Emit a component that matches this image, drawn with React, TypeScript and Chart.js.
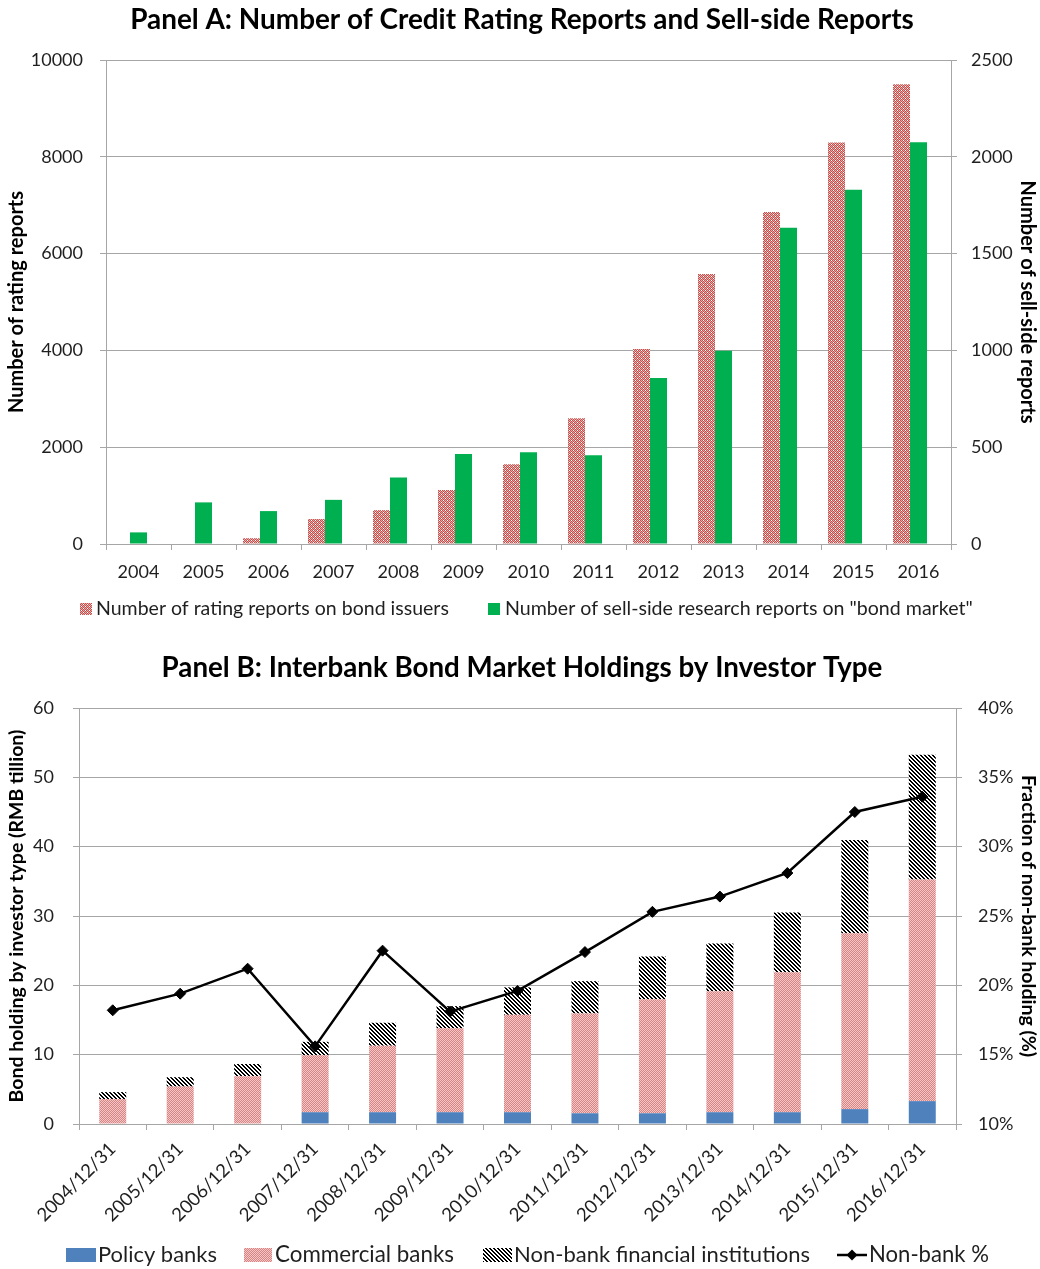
import React, { useEffect, useRef } from 'react';
import { Chart, registerables } from 'chart.js';

Chart.register(...registerables);

const FONT = 'Lato';
const TEXT = '#1f1f1f';
const GRID = '#a6a6a6';

// ---------- Panel A data ----------
const yearsA = ['2004', '2005', '2006', '2007', '2008', '2009', '2010', '2011', '2012', '2013', '2014', '2015', '2016'];
const ratingReports = [0, 0, 120, 515, 700, 1115, 1650, 2600, 4030, 5580, 6860, 8295, 9500];
const sellSideReports = [60, 215, 170, 228, 343, 465, 474, 458, 857, 998, 1634, 1830, 2075];
// Excel chart keeps an empty third slot in each cluster
const emptySlot = [null, null, null, null, null, null, null, null, null, null, null, null, null];
const titleA = 'Panel A: Number of Credit Rating Reports and Sell-side Reports';
const labelRating = 'Number of rating reports on bond issuers';
const labelSellSide = 'Number of sell-side research reports on "bond market"';

// ---------- Panel B data ----------
const datesB = ['2004/12/31', '2005/12/31', '2006/12/31', '2007/12/31', '2008/12/31', '2009/12/31', '2010/12/31', '2011/12/31', '2012/12/31', '2013/12/31', '2014/12/31', '2015/12/31', '2016/12/31'];
const policyBanks = [0, 0, 0, 1.7, 1.7, 1.7, 1.7, 1.55, 1.55, 1.7, 1.7, 2.15, 3.3];
const commercialBanks = [3.6, 5.4, 6.9, 8.2, 9.6, 12.1, 14.05, 14.4, 16.45, 17.45, 20.2, 25.35, 31.95];
const nonBankInstitutions = [1.0, 1.35, 1.75, 1.95, 3.3, 3.2, 3.95, 4.65, 6.15, 6.9, 8.6, 13.45, 18.0];
const nonBankPct = [18.2, 19.4, 21.2, 15.6, 22.5, 18.1, 19.6, 22.4, 25.3, 26.4, 28.1, 32.5, 33.6];
const titleB = 'Panel B: Interbank Bond Market Holdings by Investor Type';

function tilePattern(target: CanvasRenderingContext2D, rows: string[], colors: Record<string, string>) {
  const c = document.createElement('canvas');
  c.width = rows[0].length;
  c.height = rows.length;
  const x = c.getContext('2d')!;
  rows.forEach((r, j) => {
    for (let i = 0; i < r.length; i++) {
      x.fillStyle = colors[r[i]];
      x.fillRect(i, j, 1, 1);
    }
  });
  return target.createPattern(c, 'repeat')!;
}

function fitSize(ctx: CanvasRenderingContext2D, text: string, weight: string, targetW: number) {
  ctx.font = `${weight} 20px ${FONT}`;
  const w = ctx.measureText(text).width;
  return (20 * targetW) / w;
}

type LegendEntry = { ds: number; kind: 'box' | 'line'; x: number; w: number; h: number; tx: number; tw: number };

function decorPlugin(title: string, titleY: number, titleW: number, legendY: number, entries: LegendEntry[]) {
  return {
    id: 'decor',
    afterDraw(chart: any) {
      const ctx: CanvasRenderingContext2D = chart.ctx;
      ctx.save();
      const ts = fitSize(ctx, title, 'bold', titleW);
      ctx.font = `bold ${ts}px ${FONT}`;
      ctx.fillStyle = '#000';
      ctx.textAlign = 'center';
      ctx.textBaseline = 'middle';
      ctx.fillText(title, 522, titleY);

      entries.forEach((e) => {
        const ds = chart.data.datasets[e.ds];
        if (e.kind === 'box') {
          ctx.fillStyle = ds.backgroundColor;
          ctx.fillRect(e.x, legendY - e.h / 2, e.w, e.h);
        } else {
          ctx.strokeStyle = ds.borderColor;
          ctx.lineWidth = 2.5;
          ctx.beginPath();
          ctx.moveTo(e.x, legendY);
          ctx.lineTo(e.x + e.w, legendY);
          ctx.stroke();
          const cx = e.x + e.w / 2;
          const r = 5.5;
          ctx.fillStyle = ds.borderColor;
          ctx.beginPath();
          ctx.moveTo(cx, legendY - r);
          ctx.lineTo(cx + r, legendY);
          ctx.lineTo(cx, legendY + r);
          ctx.lineTo(cx - r, legendY);
          ctx.closePath();
          ctx.fill();
        }
        const s = fitSize(ctx, ds.label, 'normal', e.tw);
        ctx.font = `normal ${s}px ${FONT}`;
        ctx.fillStyle = TEXT;
        ctx.textAlign = 'left';
        ctx.textBaseline = 'middle';
        ctx.fillText(ds.label, e.tx, legendY);
      });
      ctx.restore();
    },
  };
}

const tickFont = { family: FONT, size: 18 };

function PanelA() {
  const ref = useRef<HTMLCanvasElement>(null);
  useEffect(() => {
    const canvas = ref.current!;
    const ctx = canvas.getContext('2d')!;
    const ratingPat = tilePattern(ctx, ['RPRW', 'PRPR', 'RWRP', 'PRPR'], {
      R: '#c0504d',
      P: '#e8a8a6',
      W: '#ffffff',
    });
    const chart = new Chart(ctx, {
      type: 'bar',
      data: {
        labels: yearsA,
        datasets: [
          { label: labelRating, data: ratingReports, backgroundColor: ratingPat, yAxisID: 'y', borderWidth: 0 },
          { label: labelSellSide, data: sellSideReports, backgroundColor: '#00b050', yAxisID: 'y1', borderWidth: 0 },
          { label: '', data: emptySlot, backgroundColor: 'rgba(0,0,0,0)', yAxisID: 'y', borderWidth: 0 },
        ],
      },
      options: {
        responsive: false,
        animation: false,
        events: [],
        categoryPercentage: 0.785,
        barPercentage: 1,
        layout: { padding: { top: 60, bottom: 51, left: 0, right: 0 } },
        plugins: { legend: { display: false }, tooltip: { enabled: false }, title: { display: false } },
        scales: {
          x: {
            grid: { offset: true, drawOnChartArea: false, drawTicks: true, tickLength: 6, color: GRID },
            border: { display: true, color: GRID },
            ticks: { color: TEXT, font: tickFont, padding: 11, maxRotation: 0, autoSkip: false },
            afterFit: (s: any) => {
              s.height = 40;
            },
          },
          y: {
            position: 'left',
            min: 0,
            max: 10000,
            ticks: { stepSize: 2000, color: TEXT, font: tickFont, padding: 17, callback: (v: any) => String(v) },
            grid: { color: GRID, tickLength: 6 },
            border: { color: GRID },
            title: { display: true, text: 'Number of rating reports', font: { family: FONT, size: 20, weight: 'bold' }, color: '#000', padding: { top: 5, bottom: 0 } },
            afterFit: (s: any) => {
              s.width = 106;
            },
          },
          y1: {
            position: 'right',
            min: 0,
            max: 2500,
            ticks: { stepSize: 500, color: TEXT, font: tickFont, padding: 14, callback: (v: any) => String(v) },
            grid: { drawOnChartArea: false, color: GRID, tickLength: 6 },
            border: { color: GRID },
            title: { display: true, text: 'Number of sell-side reports', font: { family: FONT, size: 20, weight: 'bold' }, color: '#000', padding: { top: 1, bottom: 0 } },
            afterFit: (s: any) => {
              s.width = 89;
            },
          },
        },
      } as any,
      plugins: [
        decorPlugin(titleA, 20, 784, 609, [
          { ds: 0, kind: 'box', x: 80, w: 12, h: 12, tx: 96, tw: 353 },
          { ds: 1, kind: 'box', x: 488, w: 12, h: 12, tx: 505, tw: 468 },
        ]),
      ],
    });
    return () => chart.destroy();
  }, []);
  return <canvas ref={ref} width={1040} height={635} style={{ position: 'absolute', left: 0, top: 0 }} />;
}

function PanelB() {
  const ref = useRef<HTMLCanvasElement>(null);
  useEffect(() => {
    const canvas = ref.current!;
    const ctx = canvas.getContext('2d')!;
    const commPat = tilePattern(ctx, ['DL', 'LD'], { D: '#d98482', L: '#f1c8c7' });
    const stripePat = tilePattern(ctx, ['KKWW', 'WKKW', 'WWKK', 'KWWK'], { K: '#000000', W: '#ffffff' });
    const chart = new Chart(ctx, {
      type: 'bar',
      data: {
        labels: datesB,
        datasets: [
          { type: 'bar', label: 'Policy banks', data: policyBanks, backgroundColor: '#4f81bd', yAxisID: 'y', order: 1, borderWidth: 0 },
          { type: 'bar', label: 'Commercial banks', data: commercialBanks, backgroundColor: commPat, yAxisID: 'y', order: 1, borderWidth: 0 },
          { type: 'bar', label: 'Non-bank financial institutions', data: nonBankInstitutions, backgroundColor: stripePat, yAxisID: 'y', order: 1, borderWidth: 0 },
          {
            type: 'line',
            label: 'Non-bank %',
            data: nonBankPct,
            yAxisID: 'y1',
            order: 0,
            borderColor: '#000000',
            backgroundColor: '#000000',
            borderWidth: 2.5,
            tension: 0,
            pointStyle: 'rectRot',
            pointRadius: 5.5,
            pointBackgroundColor: '#000000',
            pointBorderColor: '#000000',
            pointBorderWidth: 1,
          },
        ],
      },
      options: {
        responsive: false,
        animation: false,
        events: [],
        categoryPercentage: 0.4,
        barPercentage: 1,
        layout: { padding: { top: 73, bottom: 35, left: 0, right: 0 } },
        plugins: { legend: { display: false }, tooltip: { enabled: false }, title: { display: false } },
        scales: {
          x: {
            stacked: true,
            grid: { offset: true, drawOnChartArea: false, drawTicks: true, tickLength: 6, color: GRID },
            border: { display: true, color: GRID },
            ticks: { color: TEXT, font: { family: FONT, size: 18.5 }, padding: 8, minRotation: 45, maxRotation: 45, autoSkip: false },
            afterFit: (s: any) => {
              s.height = 110;
            },
          },
          y: {
            stacked: true,
            position: 'left',
            min: 0,
            max: 60,
            ticks: { stepSize: 10, color: TEXT, font: tickFont, padding: 19 },
            grid: { color: GRID, tickLength: 6 },
            border: { color: GRID },
            title: { display: true, text: 'Bond holding by investor type (RMB tillion)', font: { family: FONT, size: 19.5, weight: 'bold' }, color: '#000', padding: { top: 5, bottom: 0 } },
            afterFit: (s: any) => {
              s.width = 79;
            },
          },
          y1: {
            position: 'right',
            min: 10,
            max: 40,
            ticks: { stepSize: 5, color: TEXT, font: tickFont, padding: 16, callback: (v: any) => v + '%' },
            grid: { drawOnChartArea: false, color: GRID, tickLength: 6 },
            border: { color: GRID },
            title: { display: true, text: 'Fraction of non-bank holding (%)', font: { family: FONT, size: 19.5, weight: 'bold' }, color: '#000', padding: { top: 0, bottom: 0 } },
            afterFit: (s: any) => {
              s.width = 84;
            },
          },
        },
      } as any,
      plugins: [
        decorPlugin(titleB, 33, 721, 620, [
          { ds: 0, kind: 'box', x: 66, w: 30, h: 14, tx: 98, tw: 119 },
          { ds: 1, kind: 'box', x: 244, w: 28, h: 14, tx: 275, tw: 179 },
          { ds: 2, kind: 'box', x: 483, w: 29, h: 14, tx: 514, tw: 296 },
          { ds: 3, kind: 'line', x: 837, w: 30, h: 14, tx: 869, tw: 120 },
        ]),
      ],
    });
    return () => chart.destroy();
  }, []);
  return <canvas ref={ref} width={1040} height={634} style={{ position: 'absolute', left: 0, top: 635 }} />;
}

export default function App() {
  return (
    <div style={{ position: 'absolute', left: 0, top: 0, width: 1040, height: 1269, background: '#fff', overflow: 'hidden' }}>
      <PanelA />
      <PanelB />
    </div>
  );
}
